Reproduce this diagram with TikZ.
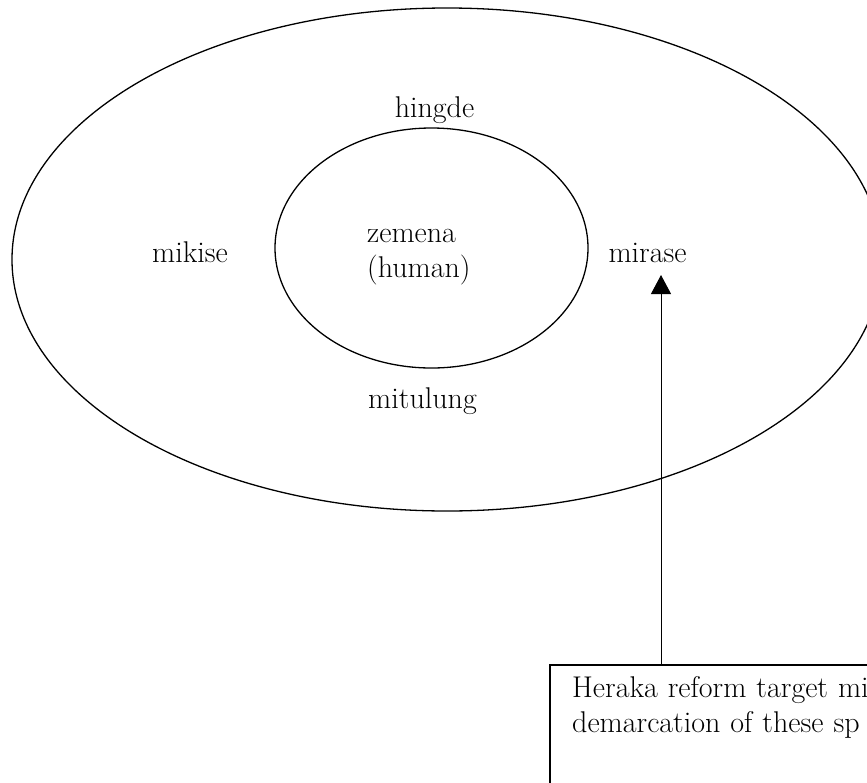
\documentclass[tikz,border=0pt]{standalone}
\usetikzlibrary{arrows.meta}
\begin{document}
\begin{tikzpicture}[x=1pt, y=-1pt,
  lbl/.style={font=\fontsize{30}{35}\selectfont, inner sep=0pt, anchor=base},
  ring/.style={line width=1.3pt},
  notebox/.style={font=\fontsize{30}{35}\selectfont,
    align=left, text width=420, inner xsep=22, inner ysep=11,
    anchor=north west},
  pointer/.style={line width=1pt, -{Triangle[length=19,width=20]}}]

 \useasboundingbox (0,0) rectangle (867,782);
 \clip (0,0) rectangle (867,782);

	%rings
 \draw[ring] (447,259.5) ellipse [x radius=435, y radius=251.5];
 \draw[ring] (431.5,248) ellipse [x radius=156.5, y radius=120];

	%spaces
    \foreach \x/\y/\txt/\name in {434.5/117/hingde/hin, 190/262/mikise/mik, 647.5/262/mirase/mir, 422.5/408/mitulung/mit}{
         \node[lbl] (\name) at (\x,\y) {\txt};
    }
 \node[lbl, anchor=base west] (zem) at (367,242) {zemena};
 \node[lbl, anchor=base west] (hum) at (367,277) {(human)};

	%note
 \node[notebox] (box) at (550,665) {Heraka reform target mi\\demarcation of these sp};
 \draw[ring] (box.north west) rectangle (900,820);
 \coordinate (tip) at (661,275);
 \draw[pointer] (box.north -| tip) -- (tip);

\end{tikzpicture}
\end{document}
